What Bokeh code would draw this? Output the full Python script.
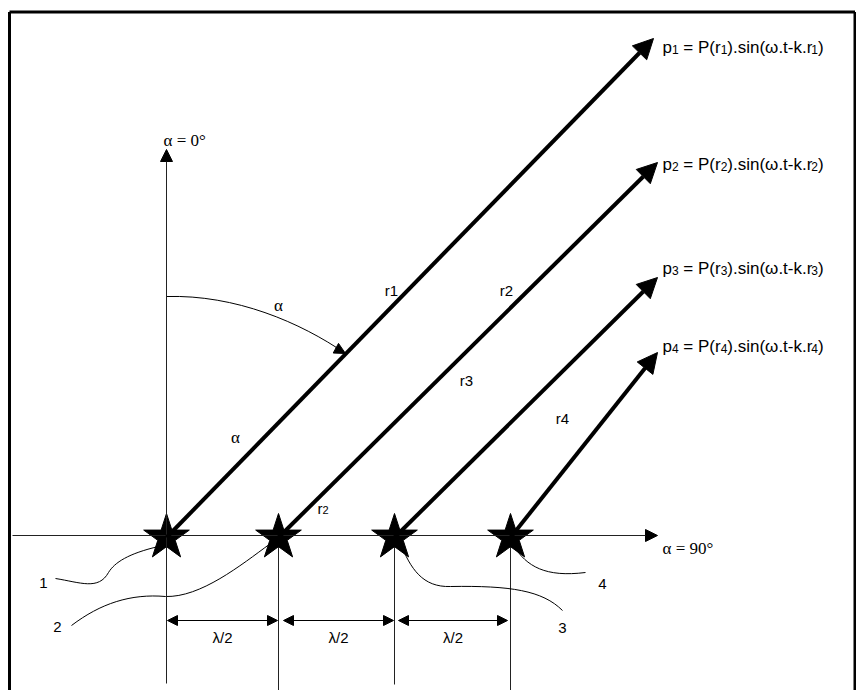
from bokeh.plotting import figure
from bokeh.models import Range1d, Arrow, NormalHead
from bokeh.core.properties import value
from bokeh.embed import file_html
from bokeh.resources import INLINE

# ---- diagram data (screen pixel coordinates, y grows downward) ----
source_x = [166, 278, 394, 510]
source_y = [537, 537, 537, 537]
line_bottom = [683, 692, 684, 692]

ray_tip_x = [653, 657, 657, 657]
ray_tip_y = [38, 162, 277, 352]

# "_d" marks a subscript digit
p_labels = ["p_1 = P(r_1).sin(ω.t-k.r_1)", "p_2 = P(r_2).sin(ω.t-k.r_2)",
            "p_3 = P(r_3).sin(ω.t-k.r_3)", "p_4 = P(r_4).sin(ω.t-k.r_4)"]
p_label_x = [662, 662, 662, 662]
p_label_baseline = [47, 164, 268, 346]

r_labels = ["r1", "r2", "r3", "r4"]
r_label_x = [391, 506, 466, 562]
r_label_y = [290, 290, 380, 418]
r_small_label = "r_2"
r_small_x = 317
r_small_baseline = 508

num_labels = ["1", "2", "3", "4"]
num_label_x = [43, 57, 562, 602]
num_label_y = [582, 626, 627, 583]

half_wave_x0 = [167, 283, 398]
half_wave_x1 = [277, 393, 507]
half_wave_y = 620
half_wave_label = "λ/2"
half_wave_label_y = 637

axis_origin = (166, 535)
axis_x_end = 657
axis_x_start = 12
axis_y_top = 149

# Arial / Liberation Sans advance widths (per 1000 em)
ADV = {"p": 556, " ": 278, "\u00a0": 278, "=": 584, "P": 667, "(": 333, ")": 333,
       "r": 333, ".": 278, "s": 500, "i": 222, "n": 556, "ω": 720, "t": 278,
       "-": 333, "k": 500}
MAIN_SIZE, SUB_SIZE = 17, 12
SMALL_MAIN, SMALL_SUB = 15, 11


def seg_width(s, size):
    return sum(ADV.get(c, 556) for c in s) * size / 1000


def split_label(lbl):
    segs, cur, i = [], "", 0
    while i < len(lbl):
        if lbl[i] == "_":
            if cur:
                segs.append((cur, False))
                cur = ""
            segs.append((lbl[i + 1], True))
            i += 2
        else:
            cur += lbl[i]
            i += 1
    if cur:
        segs.append((cur, False))
    return segs


def layout_label(lbl, x0, yb, msize, ssize, out_main, out_sub):
    x = x0
    for s, is_sub in split_label(lbl):
        s = s.replace(" ", "\u00a0")
        if is_sub:
            out_sub[0].append(x); out_sub[1].append(yb + 1.5); out_sub[2].append(s)
            x += seg_width(s, ssize)
        else:
            out_main[0].append(x); out_main[1].append(yb); out_main[2].append(s)
            x += seg_width(s, msize)


W, H = 856, 690
p = figure(width=W, height=H, x_range=Range1d(0, 856), y_range=Range1d(690, 0),
           output_backend="svg", toolbar_location=None,
           x_axis_location=None, y_axis_location=None, min_border=0)
p.grid.visible = False
p.outline_line_color = None
p.background_fill_color = "white"

# frame
p.line([9, 9], [700, 11.5], line_color="black", line_width=3)
p.line([9, 854.5], [11.5, 11.5], line_color="black", line_width=3)
p.line([854.5, 854.5], [11.5, 700], line_color="black", line_width=3)

# axes
ox, oy = axis_origin
p.add_layout(Arrow(end=NormalHead(size=12, fill_color="black", line_color="black"),
                   x_start=axis_x_start, y_start=oy, x_end=axis_x_end, y_end=oy,
                   line_color="#222", line_width=1))
p.add_layout(Arrow(end=NormalHead(size=12, fill_color="black", line_color="black"),
                   x_start=ox, y_start=line_bottom[0], x_end=ox, y_end=axis_y_top,
                   line_color="#222", line_width=1))
for i in range(1, 4):
    p.line([source_x[i], source_x[i]], [oy, line_bottom[i]], line_color="#222", line_width=1)

# thin curves to the numbered labels
p.bezier(x0=[55, 108], y0=[578, 572], x1=[108, 158], y1=[572, 546],
         cx0=[80, 114], cy0=[582, 562], cx1=[98, 128], cy1=[590, 553],
         line_color="black", line_width=1)
p.bezier(x0=[71, 165], y0=[625, 596], x1=[165, 270], y1=[596, 543],
         cx0=[100, 200], cy0=[603, 597], cx1=[130, 240], cy1=[593, 565],
         line_color="black", line_width=1)
p.bezier(x0=[400, 450], y0=[543, 586], x1=[450, 562], y1=[586, 610],
         cx0=[410, 510], cy0=[568, 585], cx1=[422, 542], cy1=[587, 590],
         line_color="black", line_width=1)
p.bezier(x0=[513], y0=[545], x1=[585], y1=[572],
         cx0=[526], cy0=[566], cx1=[545], cy1=[577],
         line_color="black", line_width=1)

# angle arc alpha
p.bezier(x0=[166], y0=[296], x1=[345], y1=[353],
         cx0=[235], cy0=[294], cx1=[300], cy1=[322],
         line_color="black", line_width=1)
p.add_layout(Arrow(end=NormalHead(size=11, fill_color="black", line_color="black"),
                   x_start=335, y_start=347.5, x_end=345, y_end=353,
                   line_color="black", line_width=1))

# rays
for i in range(4):
    p.add_layout(Arrow(end=NormalHead(size=20, fill_color="black", line_color="black"),
                       x_start=source_x[i], y_start=source_y[i],
                       x_end=ray_tip_x[i], y_end=ray_tip_y[i],
                       line_color="black", line_width=4))

# half wavelength dimension arrows
for a, b in zip(half_wave_x0, half_wave_x1):
    p.add_layout(Arrow(start=NormalHead(size=10, fill_color="black", line_color="black"),
                       end=NormalHead(size=10, fill_color="black", line_color="black"),
                       x_start=a, y_start=half_wave_y, x_end=b, y_end=half_wave_y,
                       line_color="black", line_width=1))
p.text(x=[(a + b) / 2 for a, b in zip(half_wave_x0, half_wave_x1)],
       y=[half_wave_label_y] * 3, text=[half_wave_label] * 3,
       text_font=value("Liberation Sans"), text_font_size="15px",
       text_align="center", text_baseline="middle", text_color="black")

# stars
p.scatter(x=source_x, y=source_y, marker="star", size=48,
          fill_color="black", line_color="black")

# texts with subscripts
big_main, big_sub = ([], [], []), ([], [], [])
for lbl, x0, yb in zip(p_labels, p_label_x, p_label_baseline):
    layout_label(lbl, x0, yb, MAIN_SIZE, SUB_SIZE, big_main, big_sub)
small_main, small_sub = ([], [], []), ([], [], [])
layout_label(r_small_label, r_small_x, r_small_baseline, SMALL_MAIN, SMALL_SUB,
             small_main, small_sub)

for (xs, ys, ts), size in [(big_main, MAIN_SIZE), (big_sub, SUB_SIZE),
                           (small_main, SMALL_MAIN), (small_sub, SMALL_SUB)]:
    p.text(x=xs, y=ys, text=ts,
           text_font=value("Liberation Sans"), text_font_size=f"{size}px",
           text_align="left", text_baseline="alphabetic", text_color="black")

p.text(x=r_label_x, y=r_label_y, text=r_labels,
       text_font=value("Liberation Sans"), text_font_size="15px",
       text_align="center", text_baseline="middle", text_color="black")
p.text(x=num_label_x, y=num_label_y, text=num_labels,
       text_font=value("Liberation Sans"), text_font_size="15px",
       text_align="center", text_baseline="middle", text_color="black")
p.text(x=[163, 662], y=[140, 548], text=["α = 0°", "α = 90°"],
       text_font=value("Liberation Serif"), text_font_size="17px",
       text_align="left", text_baseline="middle", text_color="black")
p.text(x=[235, 278], y=[437, 305], text=["α", "α"],
       text_font=value("Liberation Serif"), text_font_size="17px",
       text_align="center", text_baseline="middle", text_color="black")

open("out.html", "w").write(file_html(p, INLINE))
